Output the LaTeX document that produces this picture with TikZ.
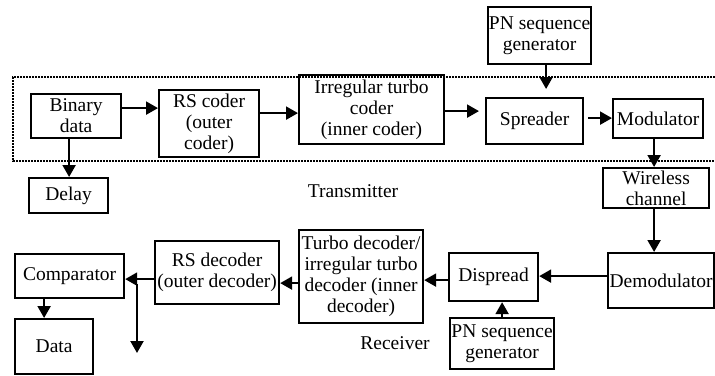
\documentclass[tikz,border=0pt]{standalone}
\usepackage{fontspec}
\setmainfont{Liberation Serif}
\usetikzlibrary{arrows.meta}
\begin{document}
\begin{tikzpicture}[x=1pt,y=-1pt,
  blk/.style={draw, line width=2.2pt, anchor=north west, align=center, inner sep=0pt,
    font=\fontsize{19.5}{21}\selectfont},
  arr/.style={line width=2.2pt, -{Triangle[length=12pt,width=13pt]}}]
\useasboundingbox (0,0) rectangle (715,375);

%Transmitter
\draw[line width=2pt, densely dotted] (715,77) -- (13,77) -- (13,161) -- (715,161);
\node[blk, minimum width=90pt, minimum height=44pt] (bin) at (30,93) {Binary\\data};
\node[blk, minimum width=100pt, minimum height=67pt] (rsc) at (158,89) {RS coder\\(outer\\coder)};
\node[blk, minimum width=145pt, minimum height=69pt] (itc) at (298,74) {Irregular turbo\\coder\\(inner coder)};
\node[blk, minimum width=97pt, minimum height=46pt] (spr) at (485,97) {Spreader};
\node[blk, minimum width=90pt, minimum height=39pt] (mod) at (612,98) {Modulator};
\node[blk, minimum width=103pt, minimum height=57pt] (pnt) at (487,6) {PN sequence\\generator};
\node[blk, minimum width=79pt, minimum height=35pt] (dly) at (28,177) {Delay};
\node[font=\fontsize{19.5}{21}\selectfont] (tx) at (353,191) {Transmitter};

%Channel
\node[blk, minimum width=106pt, minimum height=40pt] (wch) at (602,167) {Wireless\\channel};

%Receiver
\node[blk, minimum width=106pt, minimum height=55pt] (dem) at (607,252) {Demodulator};
\node[blk, minimum width=89pt, minimum height=48pt] (dsp) at (448,252) {Dispread};
\node[blk, minimum width=104pt, minimum height=51pt] (pnb) at (449,317) {PN sequence\\generator};
\node[blk, minimum width=124pt, minimum height=93pt] (tdc) at (298,229) {Turbo decoder/\\irregular turbo\\decoder (inner\\decoder)};
\node[blk, minimum width=124pt, minimum height=63pt] (rsd) at (154,240) {RS decoder\\(outer decoder)};
\node[blk, minimum width=109pt, minimum height=44pt] (cmp) at (14,253) {Comparator};
\node[blk, minimum width=78pt, minimum height=55pt] (dat) at (14,318) {Data};
\node[font=\fontsize{19.5}{21}\selectfont] (rx) at (395,343) {Receiver};

%Arrows
\draw[arr] ([yshift=8pt]bin.east) coordinate (p1) -- (p1 -| rsc.west);
\draw[arr] ([yshift=10.5pt]rsc.east) coordinate (p2) -- (p2 -| itc.west);
\draw[arr, shorten >=6pt] ([yshift=-1.5pt]itc.east) coordinate (p3) -- (p3 -| spr.west);
\draw[arr, shorten <=4pt] ([yshift=3pt]spr.east) coordinate (p4) -- (p4 -| mod.west);
\draw[arr, shorten >=8pt] ([xshift=6.5pt]pnt.south) coordinate (p5) -- (p5 |- spr.north);
\draw[arr] ([xshift=-7pt]bin.south) coordinate (p6) -- (p6 |- dly.north);
\draw[arr] ([xshift=-4pt]mod.south) coordinate (p7) -- (p7 |- wch.north);
\draw[arr] ([xshift=-2pt]wch.south) coordinate (p8) -- (p8 |- dem.north);
\draw[arr] ([yshift=4.5pt]dem.west) coordinate (p9) -- (p9 -| dsp.east);
\draw[arr] (pnb.north) -- (pnb.north |- dsp.south);
\draw[arr] ([yshift=-3pt]dsp.west) coordinate (p10) -- (p10 -| tdc.east);
\draw[arr] ([yshift=-6.5pt]tdc.west) coordinate (p11) -- (p11 -| rsd.east);
\draw[arr] ([yshift=-6.5pt]rsd.west) coordinate (p12) -- (p12 -| cmp.east);
\draw[arr] ([xshift=-25.5pt]cmp.south) coordinate (p13) -- (p13 |- dat.north);
\coordinate (o1) at (137,284);
\coordinate (o2) at (137,353);
\draw[arr] (o1) -- (o2);

\end{tikzpicture}
\end{document}
